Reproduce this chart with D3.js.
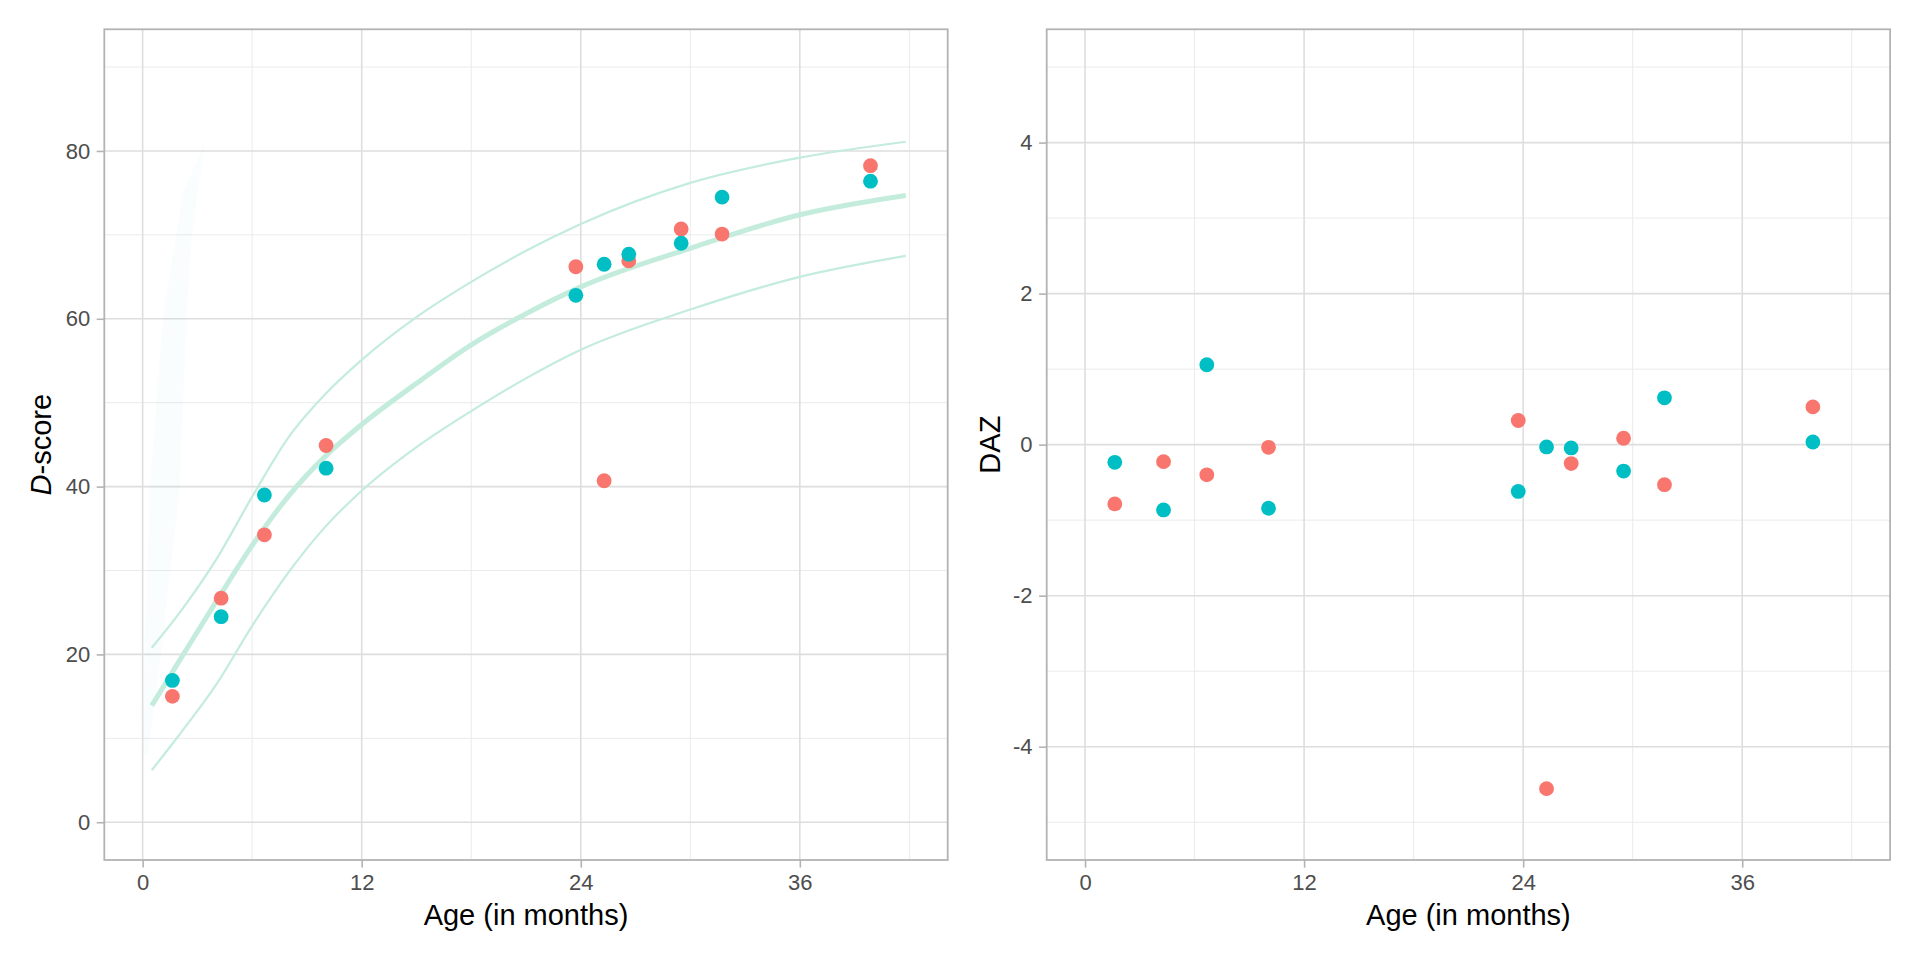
<!DOCTYPE html>
<html>
<head>
<meta charset="utf-8">
<script src="https://cdn.jsdelivr.net/npm/d3@7"></script>
<style>
  body { margin: 0; background: #fff; }
  svg { display: block; font-family: "Liberation Sans", Arial, Helvetica, sans-serif; }
</style>
</head>
<body>
<div id="chart"></div>
<script>
// measurement ages (months), shared by both children
var ages = [1.63, 4.30, 6.67, 10.05, 23.73, 25.28, 26.63, 29.50, 31.74, 39.87];

// D-score per child
var dscoreRed  = [15.0, 26.7, 34.25, 44.9, 66.2, 40.7, 66.9, 70.7, 70.1, 78.25];
var dscoreCyan = [16.9, 24.5, 39.0, 42.2, 62.8, 66.5, 67.7, 69.0, 74.5, 76.4];

// DAZ per child
var dazRed  = [-0.785, -0.225, -0.40, -0.035, 0.32, -4.555, -0.25, 0.085, -0.53, 0.50];
var dazCyan = [-0.234, -0.864, 1.058, -0.842, -0.62, -0.03, -0.044, -0.35, 0.62, 0.035];

// reference curves
var refAge   = [0.5, 2, 4, 6, 8, 10, 12, 15, 18, 21, 24, 30, 36, 41.8];
var refUpper = [20.8, 24.9, 31.2, 38.8, 45.9, 51.0, 55.1, 60.2, 64.4, 68.1, 71.3, 76.2, 79.2, 81.1];
var refP50   = [13.9, 19.2, 26.2, 33.0, 38.9, 43.6, 47.4, 52.3, 56.9, 60.6, 63.8, 68.4, 72.4, 74.7];
var refLower = [6.2, 10.4, 16.3, 23.4, 29.8, 35.2, 39.5, 44.7, 49.0, 52.9, 56.3, 61.1, 65.0, 67.5];

// faint shaded sliver near birth
var wedgeAge = [0.0, 0.1, 0.4, 1.1, 2.2, 3.4, 2.7, 2.4, 2.05, 1.0, 0.3];
var wedgeD   = [8, 20, 40, 60, 75, 81, 70, 60, 40, 20, 8];

var xTicks = [0, 12, 24, 36];
var xMinor = [6, 18, 30, 42];
var dTicks = [0, 20, 40, 60, 80];
var dMinor = [10, 30, 50, 70, 90];
var zTicks = [-4, -2, 0, 2, 4];
var zMinor = [-5, -3, -1, 1, 3, 5];

var W = 1920, H = 960;
var colRed = "#F8766D", colCyan = "#00BFC4", colRef = "#c4ecdd";

var svg = d3.select("#chart").append("svg")
    .attr("width", W)
    .attr("height", H);

function panel(opt) {
    var g = svg.append("g").attr("transform", "translate(" + opt.left + "," + opt.top + ")");
    var w = opt.width, h = opt.height;

    var x = d3.scaleLinear().domain([-2.1, 44.1]).range([0, w]);
    var y = d3.scaleLinear().domain(opt.ydomain).range([h, 0]);

    // grid
    var grid = g.append("g");
    grid.selectAll(".xminor").data(xMinor).enter().append("line")
        .attr("x1", x).attr("x2", x).attr("y1", 0).attr("y2", h)
        .attr("stroke", "#ebebeb").attr("stroke-width", 1);
    grid.selectAll(".yminor").data(opt.yminor).enter().append("line")
        .attr("y1", y).attr("y2", y).attr("x1", 0).attr("x2", w)
        .attr("stroke", "#ebebeb").attr("stroke-width", 1);
    grid.selectAll(".xmajor").data(xTicks).enter().append("line")
        .attr("x1", x).attr("x2", x).attr("y1", 0).attr("y2", h)
        .attr("stroke", "#dedede").attr("stroke-width", 1.6);
    grid.selectAll(".ymajor").data(opt.yticks).enter().append("line")
        .attr("y1", y).attr("y2", y).attr("x1", 0).attr("x2", w)
        .attr("stroke", "#dedede").attr("stroke-width", 1.6);

    opt.draw(g, x, y);

    // border
    g.append("rect").attr("width", w).attr("height", h)
        .attr("fill", "none").attr("stroke", "#b3b3b3").attr("stroke-width", 1.8);

    // axes (plain hyphen minus, like the original)
    var fmt = function(d) { return String(d); };
    var xa = g.append("g").attr("transform", "translate(0," + h + ")")
        .call(d3.axisBottom(x).tickValues(xTicks).tickFormat(fmt).tickSize(7.6).tickPadding(7));
    var ya = g.append("g")
        .call(d3.axisLeft(y).tickValues(opt.yticks).tickFormat(fmt).tickSize(7.6).tickPadding(6.5));
    [xa, ya].forEach(function(a) {
        a.select(".domain").remove();
        a.selectAll(".tick line").attr("stroke", "#b3b3b3").attr("stroke-width", 1.6);
        a.selectAll(".tick text").attr("fill", "#4d4d4d")
            .style("font-size", "22px")
            .style("font-family", "'Liberation Sans', Arial, sans-serif");
    });

    // titles
    g.append("text")
        .attr("x", w / 2).attr("y", 925 - opt.top)
        .attr("text-anchor", "middle")
        .style("font-size", "29px")
        .attr("fill", "#000")
        .text("Age (in months)");

    var yt = g.append("text")
        .attr("transform", "translate(" + (opt.ytitleX - opt.left) + "," + (h / 2) + ") rotate(-90)")
        .attr("text-anchor", "middle")
        .style("font-size", "29px")
        .attr("fill", "#000");
    opt.ytitle(yt);
}

function dots(g, x, y, vals, col) {
    g.selectAll(null).data(ages).enter().append("circle")
        .attr("cx", function(d) { return x(d); })
        .attr("cy", function(d, i) { return y(vals[i]); })
        .attr("r", 7.4)
        .attr("fill", col);
}

panel({
    left: 104.3, top: 29.3, width: 843.4, height: 830.7,
    ydomain: [-4.5, 94.5], yticks: dTicks, yminor: dMinor,
    ytitleX: 51,
    ytitle: function(t) {
        t.append("tspan").style("font-style", "italic").text("D");
        t.append("tspan").text("-score");
    },
    draw: function(g, x, y) {
        var wedge = d3.line()
            .x(function(d, i) { return x(wedgeAge[i]); })
            .y(function(d, i) { return y(wedgeD[i]); })
            .curve(d3.curveLinearClosed);
        g.append("path").attr("d", wedge(wedgeAge))
            .attr("fill", "#00BFC4").attr("fill-opacity", 0.025).attr("stroke", "none");

        var line = function(vals) {
            return d3.line()
                .x(function(d, i) { return x(refAge[i]); })
                .y(function(d, i) { return y(vals[i]); })
                .curve(d3.curveMonotoneX)(refAge);
        };
        g.append("path").attr("d", line(refUpper))
            .attr("fill", "none").attr("stroke", colRef).attr("stroke-width", 2.2);
        g.append("path").attr("d", line(refLower))
            .attr("fill", "none").attr("stroke", colRef).attr("stroke-width", 2.2);
        g.append("path").attr("d", line(refP50))
            .attr("fill", "none").attr("stroke", colRef).attr("stroke-width", 5);

        dots(g, x, y, dscoreRed, colRed);
        dots(g, x, y, dscoreCyan, colCyan);
    }
});

panel({
    left: 1046.7, top: 29.3, width: 843.4, height: 830.7,
    ydomain: [-5.5, 5.5], yticks: zTicks, yminor: zMinor,
    ytitleX: 1000.5,
    ytitle: function(t) { t.text("DAZ"); },
    draw: function(g, x, y) {
        dots(g, x, y, dazRed, colRed);
        dots(g, x, y, dazCyan, colCyan);
    }
});
</script>
</body>
</html>
